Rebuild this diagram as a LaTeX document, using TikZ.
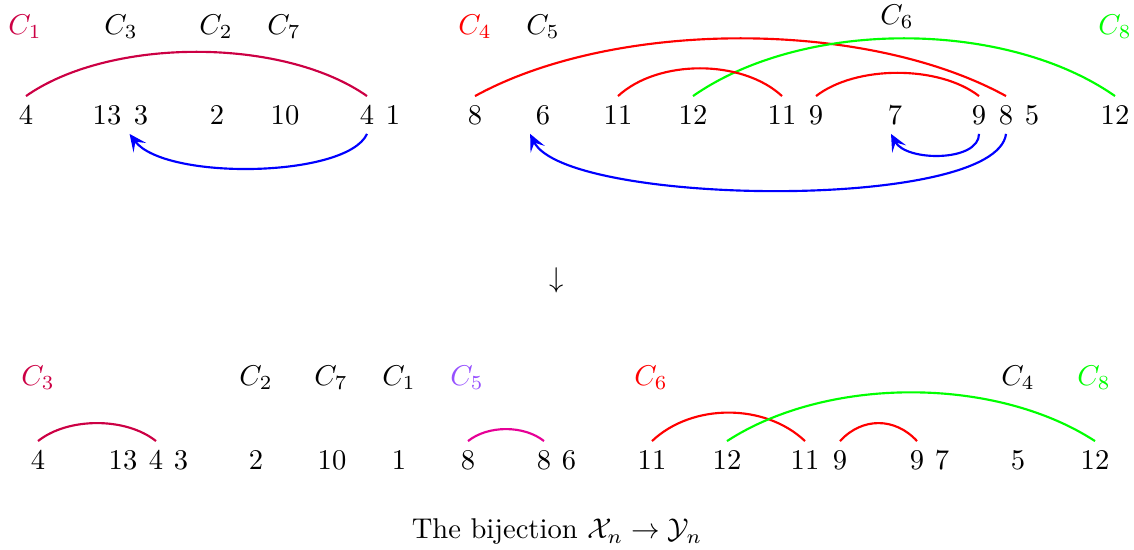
\documentclass[tikz,border=0pt]{standalone}
\usetikzlibrary{arrows.meta}
\definecolor{crim}{RGB}{204,0,68}
\definecolor{pinkm}{RGB}{230,0,150}
\definecolor{viol}{RGB}{150,80,255}
\begin{document}
\begin{tikzpicture}[x=0.35pt,y=-0.35pt,
  num/.style={inner xsep=0pt, inner ysep=3.2pt},
  lab/.style={inner sep=0pt},
  arcline/.style={line width=0.75pt},
  arr/.style={line width=0.75pt, blue, -{Stealth[length=6pt,width=5.5pt,inset=2.6pt]}}]
\useasboundingbox (0,0) rectangle (1134,550);
% top row numbers
\foreach \n/\t/\x in {t1/4/26, t2/13/107, t3/3/141, t4/2/217, t5/10/285, t6/4/367, t7/1/393,
  t8/8/475, t9/6/543, t10/11/618, t11/12/693, t12/11/782, t13/9/816, t14/7/895,
  t15/9/979, t16/8/1006, t17/5/1032, t18/12/1115}
  \node[num] (\n) at (\x,115) {$\t$};
% top labels
\node[lab, text=crim] (lc1) at (25,27) {$C_1$};
\node[lab] (lc3) at (121,27) {$C_3$};
\node[lab] (lc2) at (216,27) {$C_2$};
\node[lab] (lc7) at (284,27) {$C_7$};
\node[lab, text=red] (lc4) at (475,27) {$C_4$};
\node[lab] (lc5) at (543,27) {$C_5$};
\node[lab] (lc6) at (897,17) {$C_6$};
\node[lab, text=green] (lc8) at (1115,27) {$C_8$};
% top arcs
\draw[arcline, crim] (t1.north) .. controls +(84,-59) and +(-84,-59) .. (t6.north);
\draw[arcline, red] (t8.north) .. controls +(140,-77) and +(-140,-77) .. (t16.north);
\draw[arcline, green] (t11.north) .. controls +(110,-77) and +(-110,-77) .. (t18.north);
\draw[arcline, red] (t10.north) .. controls +(40,-37) and +(-40,-37) .. (t12.north);
\draw[arcline, red] (t13.north) .. controls +(40,-31) and +(-40,-31) .. (t15.north);
% blue arrows
\draw[arr] (t6.south) .. controls +(-20,44) and +(35,47) .. ([xshift=-4pt]t3.south);
\draw[arr] (t16.south) .. controls +(-10,78) and +(35,72) .. ([xshift=-4.5pt]t9.south);
\draw[arr] (t15.south) .. controls +(0,28) and +(15,28) .. ([xshift=-1.4pt]t14.south);
% middle arrow
\node (down) at (557,280) {$\downarrow$};
% bottom row numbers
\foreach \n/\t/\x in {b1/4/38, b2/13/123, b3/4/156, b4/3/181, b5/2/256, b6/10/332, b7/1/399,
  b8/8/468, b9/8/544, b10/6/569, b11/11/652, b12/12/727, b13/11/805, b14/9/840,
  b15/9/917, b16/7/942, b17/5/1018, b18/12/1095}
  \node[num] (\n) at (\x,460) {$\t$};
% bottom labels
\node[lab, text=crim] (mc3) at (38,378) {$C_3$};
\node[lab] (mc2) at (256,378) {$C_2$};
\node[lab] (mc7) at (331,378) {$C_7$};
\node[lab] (mc1) at (399,378) {$C_1$};
\node[lab, text=viol] (mc5) at (467,378) {$C_5$};
\node[lab, text=red] (mc6) at (651,378) {$C_6$};
\node[lab] (mc4) at (1018,378) {$C_4$};
\node[lab, text=green] (mc8) at (1094,378) {$C_8$};
% bottom arcs
\draw[arcline, crim] (b1.north) .. controls +(30,-24) and +(-30,-24) .. (b3.north);
\draw[arcline, pinkm] (b8.north) .. controls +(20,-16) and +(-20,-16) .. (b9.north);
\draw[arcline, red] (b11.north) .. controls +(40,-38) and +(-40,-38) .. (b13.north);
\draw[arcline, green] (b12.north) .. controls +(100,-65) and +(-100,-65) .. (b18.north);
\draw[arcline, red] (b14.north) .. controls +(22,-24) and +(-22,-24) .. (b15.north);
% caption
\node (cap) at (557,532) {The bijection $\mathcal{X}_n \to \mathcal{Y}_n$};
\end{tikzpicture}
\end{document}
